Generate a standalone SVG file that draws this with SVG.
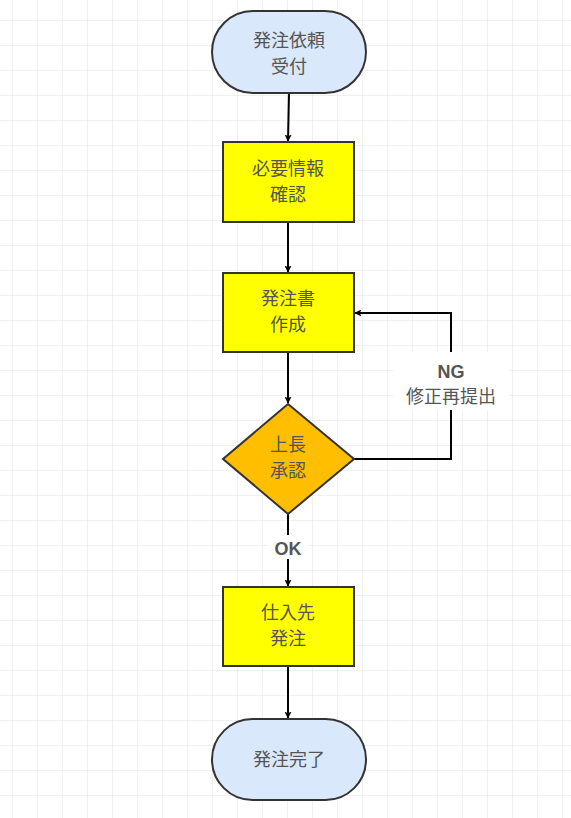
<svg xmlns="http://www.w3.org/2000/svg" width="571" height="818" viewBox="0 0 571 818">
<defs>
<pattern id="grid" x="12" y="20" width="25" height="25" patternUnits="userSpaceOnUse">
<path d="M25 0H0V25" fill="none" stroke="#e2e2e2" stroke-width="1"/>
</pattern>
<marker id="arr" viewBox="0 0 10 10" refX="9" refY="5" markerWidth="7" markerHeight="7" orient="auto" markerUnits="userSpaceOnUse">
<path d="M0,0 L10,5 L0,10 L2,5 Z" fill="#000"/>
</marker>
<style>
.t{font-family:"Noto Sans CJK JP","Liberation Sans",sans-serif;font-size:18px;fill:#555;text-anchor:middle}
.b{font-family:"Liberation Sans",sans-serif;font-size:18px;font-weight:bold;fill:#555;text-anchor:middle}
.term{fill:#dae8fc;stroke:#333;stroke-width:2}
.proc{fill:#ffff00;stroke:#333;stroke-width:2}
.dec{fill:#ffbf00;stroke:#333;stroke-width:2}
.c{fill:none;stroke:#000;stroke-width:2}
</style>
</defs>
<rect width="571" height="818" fill="#fff"/>
<rect width="571" height="818" fill="url(#grid)"/>
<g id="connectors">
<path class="c" d="M289 93L288 141" marker-end="url(#arr)"/>
<path class="c" d="M288 222V272" marker-end="url(#arr)"/>
<path class="c" d="M288 352V403" marker-end="url(#arr)"/>
<path class="c" d="M288 514V586" marker-end="url(#arr)"/>
<path class="c" d="M288 666V718" marker-end="url(#arr)"/>
<path class="c" d="M354 459H451V313H355" marker-end="url(#arr)"/>
<rect x="393" y="352" width="116" height="58" fill="#fff"/>
<text class="b" x="451" y="378">NG</text>
<text class="t" x="451" y="403">修正再提出</text>
<rect x="268" y="535" width="40" height="24" fill="#fff"/>
<text class="b" x="288" y="555">OK</text>
</g>
<g id="n1"><rect class="term" x="212" y="11" width="154" height="82" rx="41"/><text class="t" x="289" y="47">発注依頼</text><text class="t" x="289" y="73">受付</text></g>
<g id="n2"><rect class="proc" x="223" y="142" width="131" height="80"/><text class="t" x="288" y="175">必要情報</text><text class="t" x="288" y="201">確認</text></g>
<g id="n3"><rect class="proc" x="223" y="273" width="131" height="79"/><text class="t" x="288" y="305">発注書</text><text class="t" x="288" y="331">作成</text></g>
<g id="n4"><path class="dec" d="M288 404L354 459L288 514L223 459Z"/><text class="t" x="288" y="451">上長</text><text class="t" x="288" y="477">承認</text></g>
<g id="n5"><rect class="proc" x="223" y="587" width="131" height="79"/><text class="t" x="288" y="619">仕入先</text><text class="t" x="288" y="645">発注</text></g>
<g id="n6"><rect class="term" x="212" y="719" width="154" height="81" rx="40.5"/><text class="t" x="289" y="766">発注完了</text></g>
</svg>
